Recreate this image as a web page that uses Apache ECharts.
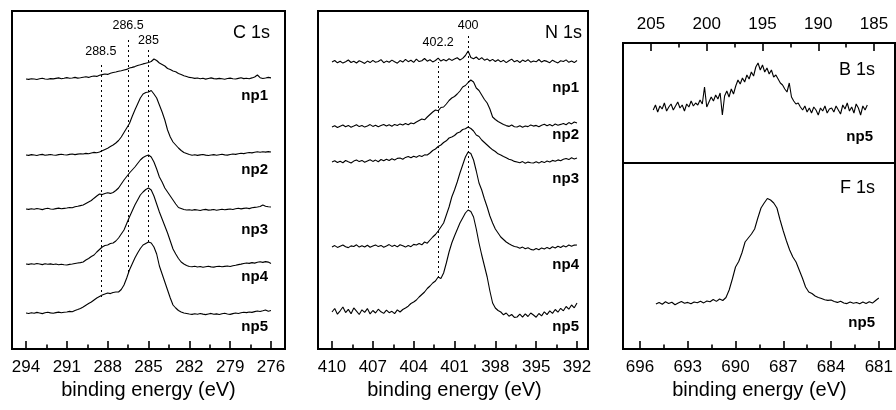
<!DOCTYPE html>
<html><head><meta charset="utf-8">
<script src="https://cdn.jsdelivr.net/npm/echarts@6/dist/echarts.min.js"></script>
<style>html,body{margin:0;padding:0;background:#fff}#c{width:896px;height:410px}</style>
</head><body><div id="c"></div>
<script>
const FONT = '"Liberation Sans", Arial, Helvetica, sans-serif';

// ---- sampling of the binding-energy scale (eV) ----
function energyGrid(start, step, n){ const a=[]; for(let i=0;i<n;i++) a.push(+(start - step*i).toFixed(2)); return a; }
const cEnergy = energyGrid(294, 0.2, 91);
const nEnergy = energyGrid(410, 0.2, 91);
const bEnergy = energyGrid(204.8, 0.2, 97);
const fEnergy = energyGrid(695, 0.2, 71);

// ---- C 1s spectra (offset intensities, arb. units) ----
const cNp1 = [269,268.6,269.3,269,268.5,269.2,269.8,269,268.7,269.4,269.1,
 269.6,270.1,269.3,269.8,270.4,269.7,270,270.6,269.9,270.3,
 270.8,271.2,270.6,271.5,272,271.6,272.8,
 273.4,274,273.6,274.8,275.5,276,276.8,277.3,278,278.6,280,
 280.6,281.4,282.5,283.2,284.1,284.8,285.5,
 286.5,289,287.5,
 285,283.5,282,279.5,278.5,
 277,276.2,274.5,273.5,272.3,271.5,270.6,
 270.2,269.6,270,269.3,269.7,268.9,269.5,270.1,269.4,269.1,269.6,269.2,268.8,269.5,269.9,269.3,269,269.6,270.2,269.4,269.8,269.3,270.1,271,273,270.3,269.5,270,270.6,270.1];
const cNp2 = [193,192.6,193.4,193,192.5,193.2,193.6,192.8,193.1,193.5,193,192.7,193.4,193.8,193.2,193,193.6,194,193.4,193.9,194.2,
 194,194.6,194.2,195,195.6,195.3,196,
 197.2,198.5,199.8,201.5,203,205,207.5,
 211,215.5,220,224.5,
 231.5,238,244,250,254,255.5,256,
 257.5,254,250,
 243,236,228,218,211,
 206,203,200,197.5,195.5,194.5,
 193.5,192.8,193.2,192.6,193.1,193.5,192.9,192.5,193,193.4,192.8,193.3,193.7,193.1,192.9,193.5,194,193.6,194.2,194.8,194.4,195,195.5,195.1,195.8,196.2,195.7,196.3,195.9,196.4,196];
const cNp3 = [139,138.6,139.3,138.8,139.5,139,138.4,139.2,139.7,139,138.7,139.4,139.9,139.2,139.6,
 140,140.5,140.2,141.3,141.8,142.4,143,
 144.5,146,147.5,149.8,152,154,
 153.4,154.5,155.2,154.6,155.5,157.5,
 160,164,168,171.5,175,
 178,181,184.5,188,190.5,192,193,
 191,186,179,
 171,166,160,156,152,
 148,144,140.5,139.5,138.5,138,
 138.3,137.7,138.4,138,137.5,138.2,138.6,137.9,138.1,138.5,137.8,138.3,138.8,138.2,138.6,139,138.5,139.2,139.7,139.1,139.6,140,139.4,140.2,140.6,141,141.5,143,141.8,141.2,141];
const cNp4 = [84,83.6,84.3,83.8,84.5,84,83.4,84.2,83.7,84.1,83.5,84,83.3,83.8,83.2,
 83,83.6,84,84.5,85,85.4,86,
 88,89.5,91.5,93,96,98.5,101,
 102.5,103,104.5,105,107,110,114,
 118,124.5,131,137,143,
 148,153,156,158.5,160,
 158,152,144,
 136,129,122,115,107,
 99,94,89.5,86,84,82.5,81.5,
 81.2,81.8,81,81.5,80.8,81.3,81.7,81.1,80.9,81.5,81.8,81.2,81.6,82,81.5,82.2,82.7,83.4,83.9,84.5,85,84.6,85.4,84.9,85.7,86.2,85.6,86.4,85.9,84.5];
const cNp5 = [35,34.5,35.3,34.8,35.6,35,34.4,35.2,35.8,35.1,34.7,35.4,35.9,35.3,35.7,
 36,36.6,36.2,37.5,38.4,39.5,41,
 42.8,44.5,46,48,50,
 51.5,53,54,55,54.4,55.5,56,
 56,58.5,63,70,78,
 84,90,95,99.5,103,104.5,106,
 105,101,94,
 82,74,66,58,50,
 43,40,37.5,36,35,34.5,34,
 33.6,34.2,33.8,34.5,33.9,33.4,34,34.6,33.7,34.1,33.5,34.3,34.8,34,33.6,34.4,35,34.5,35.2,35.8,35.4,36,35.6,36.4,37,36.5,37.2,38,36.8,37.5];

// ---- N 1s spectra ----
const nNp1 = [286,287.5,285.2,286.8,284.9,286.3,288,285.5,286.7,285,287.2,286.1,284.6,286.9,285.4,287.6,285.8,286.5,288.4,285.3,286.9,
 285.7,287.9,286.2,284.8,287.4,285.9,288.6,286.3,287.8,285.6,288.9,286.4,287.3,289.5,286.8,288.2,286.1,287.5,289.8,286.9,
 288.4,287.1,289.3,287.6,288.9,290.2,288,289.6,292.5,297,290.5,289.2,291,288.4,290.3,287.8,289.1,287,288.6,286.5,
 288.2,286.1,287.7,285.4,287.3,288.9,286.2,287.6,285.5,287.9,286.4,288.3,285.8,287,286.2,288.5,285.9,287.4,286.6,285.3,287.8,286.3,285.1,287.2,286.5,288.1,285.7,286.9,285.4,287.5];
const nNp2 = [221,222.3,220.5,221.8,223,221.2,222.6,220.8,221.9,223.2,221.4,222.5,220.9,222.1,223.4,221.6,222.8,221.3,222.4,223.5,222,
 223.2,221.8,223.6,222.5,224.1,222.9,224.4,223.3,225,224.2,226,
 227.5,229,228.2,231,233.5,236,
 238,237.2,240.5,241,244,247.5,250,
 251.5,254,257,261,262.5,265.5,268,
 266,260,257.5,253,248.5,245,
 239,231,228.5,226.5,225,
 223.5,222.4,221.6,223,221.2,221,222.3,220.8,222,221.4,223.1,221.9,222.6,221.2,222.8,223.7,222.2,223.5,222.1,224,222.8,223.6,224.5,223.2,225.4,224.1,226,225];
const nNp3 = [186,187.2,185.5,186.8,185.3,187.5,186.2,185,186.9,188,186.4,187.6,185.8,187.1,188.3,186.6,187.9,186.3,188.5,187.2,188.8,187.5,189.2,188,189.6,190,
 188.8,190.6,191.5,190.2,191.8,190.7,192.4,191.5,193.1,193,
 195,197.5,199,201.5,203,205.5,207.2,210,
 211,212.5,215,216,218.5,219.2,221,
 219.5,217,213,211.5,208,205.5,203,
 200.5,198.2,196.5,194.2,193,
 191.5,190.2,188.8,187.9,186.6,186,185.3,186.4,184.8,185.9,185.2,185,186.2,184.9,186.5,185.4,187,186.1,187.6,186.8,188.1,187.3,188.7,189.5,188.4,190.2,189.1,190];
const nNp4 = [101,102.4,100.6,101.8,103,101.2,100.4,102.1,101.5,103.2,100.9,102.3,101,102.8,100.7,101.9,103.1,101.4,102.6,100.8,102,103.4,101.6,102.7,101.1,103.3,102.2,100.9,102.5,101.3,103.6,103,
 104.5,103.2,106,104.8,108,111,
 113.5,117,121,125,133,141,151,
 158,166,175,183,191,196,
 194.5,188,177,165,
 158,149,141,132,125,
 119,115,111,108.5,106,104.2,102.8,101.5,101,
 99.8,100.9,99.2,100.3,98.6,98,99.5,98.2,100.1,99,100.6,99.3,101.2,100,101.8,100.5,102.3,101.1,103,101.7,102.9,103];
const nNp5 = [36,39.5,33.8,37.2,41,35.4,38.6,34.2,40.1,36.8,33.5,38.2,35.6,39.4,34.1,37.5,35,38.8,36.2,34.6,37.9,35.3,36.7,34.4,38.1,36,
 38.5,40,41.8,44.5,46,48,
 51,53.5,56,59.5,62,65,
 67,71,69.5,75,85,96,105,
 112,118.5,125,130,135,138,
 136.5,131,119,105,
 93,82,71,57,45,
 40,37.5,36,33.2,35,31.8,33.5,30.6,31,
 33.8,30.9,34.2,31.5,35,33,30.8,34.5,32.1,36.2,33.4,37.1,34.6,38.5,35.8,39.7,37.2,41.5,38.8,43,40.2,45];

// ---- B 1s and F 1s spectra (np5) ----
const bNp5 = [53,58,51,57,54,60,52,56,59,53,57,61,55,58,52,59,56,62,57,60,58,
 63,59,76,56,61,66,62,68,64,70,
 48,67,72,66,74,69,77,83,79,85,
 81,88,84,91,87,96,100,93,98,91,
 95,89,93,86,88,84,80,78,74,71,
 80,66,62,59,60,56,53,57,51,55,
 50,56,53,48,55,52,57,50,54,55,
 51,57,53,49,58,54,60,52,56,50,59,55,48,57,53,58];
const fNp5 = [46,47.5,45.8,48.2,46.5,47.8,45.2,47,48.5,46.8,47.6,46.2,48,47.3,48.8,47.1,49,48.2,50.5,48.6,51,
 49.5,52.5,60,71,
 83,88.5,97,108,
 112,116,121,
 132,142,147,151.5,
 150,147,142,
 130,119,109,100,
 93,88,80,72,63,
 58,56.5,54,52.5,51.5,50.2,49.6,50,
 48.5,47.6,48.8,47,46.4,48,46.8,47.5,46.2,47.9,46.5,48.3,46.9,49.5,52];

// ---- reference energies (dotted lines) ----
const cRefE = [288.5, 286.5, 285];
const cRefFrom = [51, 76, 106];
const cRefTo = [285, 311, 298];
const nRefE = [402.2, 400];
const nRefFrom = [70, 140];
const nRefTo = [286, 315];

const seriesNames = ['np1','np2','np3','np4','np5'];

const pair = (xs, ys) => ys.map((v,i)=>[xs[i], v]);
const lineStyle = {color:'#000', width:1.1};
const tickStyle = {color:'#000', width:1.6};

function dataXAxis(grid, min, max, interval, pos, withName){
  return {
    gridIndex:grid, type:'value', inverse:true, min, max, interval, position:pos,
    axisLine:{show:false, onZero:false},
    axisTick:{show:true, inside:true, length:8, lineStyle:tickStyle},
    minorTick:{show:true, splitNumber:2, length:4.5, lineStyle:tickStyle},
    splitLine:{show:false}, minorSplitLine:{show:false},
    axisLabel:{color:'#000', fontSize:17, fontFamily:FONT, margin:10},
    name: withName ? 'binding energy (eV)' : '', nameLocation:'middle', nameGap:31,
    nameTextStyle:{color:'#000', fontSize:20, fontFamily:FONT}
  };
}
function hiddenX(grid){ return {gridIndex:grid, type:'value', show:false, min:0, max:1, axisLine:{onZero:false}}; }
function hiddenY(grid, min, max){ return {gridIndex:grid, type:'value', show:false, min:min===undefined?0:min, max:max===undefined?1:max, splitLine:{show:false}}; }

const border = {show:true, borderColor:'#000', borderWidth:2, backgroundColor:'transparent'};
const grids = [
  Object.assign({left:12, top:11, width:273, height:338}, border),
  {left:26, top:11, width:245, height:338, show:false},
  Object.assign({left:318, top:11, width:270, height:338}, border),
  {left:332, top:11, width:245, height:338, show:false},
  Object.assign({left:623, top:43, width:272, height:120}, border),
  {left:651, top:43, width:223, height:120, show:false},
  Object.assign({left:623, top:163, width:272, height:186}, border),
  {left:640, top:163, width:240, height:186, show:false}
];

const xAxes = [
  hiddenX(0), dataXAxis(1, 276, 294, 3, 'bottom', true),
  hiddenX(2), dataXAxis(3, 392, 410, 3, 'bottom', true),
  hiddenX(4), dataXAxis(5, 185, 205, 5, 'top', false),
  hiddenX(6), dataXAxis(7, 681, 696, 3, 'bottom', true)
];
const yAxes = [
  hiddenY(0), hiddenY(1, -1, 337),
  hiddenY(2), hiddenY(3, -1, 337),
  hiddenY(4), hiddenY(5, 0, 120),
  hiddenY(6), hiddenY(7, 1, 187)
];

function refLines(es, from, to, gaps){
  return {
    silent:true, symbol:['none','none'], animation:false,
    lineStyle:{color:'#000', type:[2,3], width:1},
    label:{show:true, position:'end', color:'#000', fontSize:12.5, fontFamily:FONT},
    data: es.map((e,k)=>[{coord:[e, from[k]]},{coord:[e, to[k]], label:{formatter:String(e), distance:gaps[k]}}])
  };
}

const series = [];
[cNp1,cNp2,cNp3,cNp4,cNp5].forEach((arr,k)=>{
  series.push({name:'C '+seriesNames[k], type:'line', xAxisIndex:1, yAxisIndex:1, data:pair(cEnergy,arr),
    showSymbol:false, symbol:'none', lineStyle, animation:false,
    markLine: k===0 ? refLines(cRefE, cRefFrom, cRefTo, [5,5,3]) : undefined});
});
[nNp1,nNp2,nNp3,nNp4,nNp5].forEach((arr,k)=>{
  series.push({name:'N '+seriesNames[k], type:'line', xAxisIndex:3, yAxisIndex:3, data:pair(nEnergy,arr),
    showSymbol:false, symbol:'none', lineStyle, animation:false,
    markLine: k===0 ? refLines(nRefE, nRefFrom, nRefTo, [13,1]) : undefined});
});
series.push({name:'B np5', type:'line', xAxisIndex:5, yAxisIndex:5, data:pair(bEnergy,bNp5), showSymbol:false, symbol:'none', lineStyle, animation:false});
series.push({name:'F np5', type:'line', xAxisIndex:7, yAxisIndex:7, data:pair(fEnergy,fNp5), showSymbol:false, symbol:'none', lineStyle, animation:false});

function txt(text, x, y, bold, size){
  return {type:'text', x, y, silent:true, z:10,
    style:{text, align:'right', verticalAlign:'middle', fill:'#000',
      font:(bold?'bold ':'')+size+'px '+FONT}};
}
const cLabelY = [96,170,230,277,327];
const nLabelY = [88,135,179,265,327];
const graphics = [txt('C 1s',270,33,false,18), txt('N 1s',582,33,false,18),
  txt('B 1s',875,70,false,18), txt('np5',873,137,true,15),
  txt('F 1s',875,188,false,18), txt('np5',875,323,true,15)];
seriesNames.forEach((s,k)=>{ graphics.push(txt(s,268,cLabelY[k],true,15)); graphics.push(txt(s,579,nLabelY[k],true,15)); });

const chart = echarts.init(document.getElementById('c'), null, {renderer:'canvas'});
chart.setOption({
  animation:false, backgroundColor:'#fff',
  grid:grids, xAxis:xAxes, yAxis:yAxes, series, graphic:graphics
});
</script></body></html>
